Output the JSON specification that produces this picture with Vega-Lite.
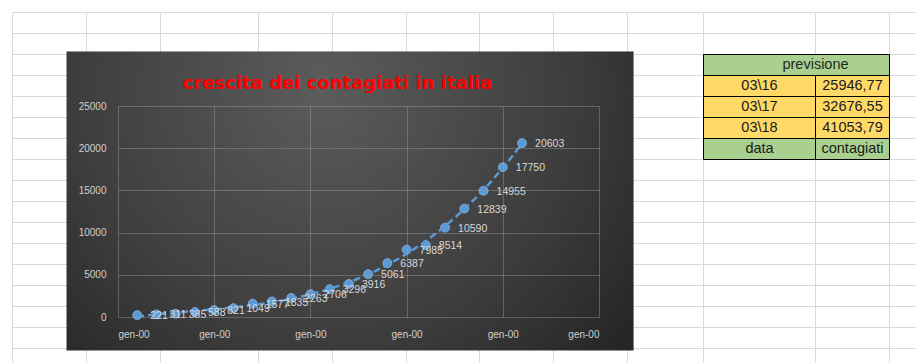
{
  "$schema": "https://vega.github.io/schema/vega-lite/v6.json",
  "width": 481,
  "height": 211,
  "autosize": {"type": "none"},
  "padding": {"left": 118, "top": 106, "right": 317, "bottom": 46},
  "background": "#ffffff",
  "config": {"view": {"stroke": null}},
  "datasets": {
    "colonne": [
      {"col": 0}, {"col": 1}, {"col": 2}, {"col": 3}, {"col": 4}, {"col": 5},
      {"col": 6}, {"col": 7}, {"col": 8}, {"col": 9}, {"col": 10}, {"col": 11}
    ],
    "righe": [
      {"riga": 0}, {"riga": 1}, {"riga": 2}, {"riga": 3}, {"riga": 4}, {"riga": 5},
      {"riga": 6}, {"riga": 7}, {"riga": 8}, {"riga": 9}, {"riga": 10}, {"riga": 11},
      {"riga": 12}, {"riga": 13}, {"riga": 14}, {"riga": 15}, {"riga": 16}
    ],
    "grafico": [{"oggetto": "grafico"}],
    "tabella": [
      {"col": 9, "col2": 11, "riga": 2, "riga2": 3, "testo": "previsione", "tipo": "intestazione"},
      {"col": 9, "col2": 10, "riga": 3, "riga2": 4, "testo": "03\\16", "tipo": "previsione"},
      {"col": 10, "col2": 11, "riga": 3, "riga2": 4, "testo": "25946,77", "tipo": "previsione"},
      {"col": 9, "col2": 10, "riga": 4, "riga2": 5, "testo": "03\\17", "tipo": "previsione"},
      {"col": 10, "col2": 11, "riga": 4, "riga2": 5, "testo": "32676,55", "tipo": "previsione"},
      {"col": 9, "col2": 10, "riga": 5, "riga2": 6, "testo": "03\\18", "tipo": "previsione"},
      {"col": 10, "col2": 11, "riga": 5, "riga2": 6, "testo": "41053,79", "tipo": "previsione"},
      {"col": 9, "col2": 10, "riga": 6, "riga2": 7, "testo": "data", "tipo": "intestazione"},
      {"col": 10, "col2": 11, "riga": 6, "riga2": 7, "testo": "contagiati", "tipo": "intestazione"}
    ],
    "contagi": [
      {"giorno": 1, "contagiati": 221},
      {"giorno": 2, "contagiati": 311},
      {"giorno": 3, "contagiati": 385},
      {"giorno": 4, "contagiati": 588},
      {"giorno": 5, "contagiati": 821},
      {"giorno": 6, "contagiati": 1049},
      {"giorno": 7, "contagiati": 1577},
      {"giorno": 8, "contagiati": 1835},
      {"giorno": 9, "contagiati": 2263},
      {"giorno": 10, "contagiati": 2706},
      {"giorno": 11, "contagiati": 3296},
      {"giorno": 12, "contagiati": 3916},
      {"giorno": 13, "contagiati": 5061},
      {"giorno": 14, "contagiati": 6387},
      {"giorno": 15, "contagiati": 7985},
      {"giorno": 16, "contagiati": 8514},
      {"giorno": 17, "contagiati": 10590},
      {"giorno": 18, "contagiati": 12839},
      {"giorno": 19, "contagiati": 14955},
      {"giorno": 20, "contagiati": 17750},
      {"giorno": 21, "contagiati": 20603}
    ]
  },
  "layer": [
    {
      "layer": [
        {
          "data": {"name": "colonne"},
          "mark": {"type": "rule", "color": "#d9d9d9", "strokeWidth": 1, "clip": false},
          "encoding": {
            "x": {"field": "col", "type": "quantitative", "axis": null,
                  "scale": {"domain": [0, 1, 2, 3, 4, 5, 6, 7, 8, 9, 10, 11, 12], "range": [-105.5, -31.5, 42.5, 140.5, 214.5, 288.5, 361.5, 435.5, 509.5, 585.5, 697.5, 771.5, 845.5], "nice": false, "zero": false}},
            "y": {"datum": 0, "type": "quantitative", "axis": null,
                  "scale": {"domain": [0, 17], "range": [-93.5, 263.5], "nice": false, "zero": false}},
            "y2": {"datum": 17}
          }
        },
        {
          "data": {"name": "righe"},
          "mark": {"type": "rule", "color": "#d9d9d9", "strokeWidth": 1, "clip": false},
          "encoding": {
            "y": {"field": "riga", "type": "quantitative", "axis": null,
                  "scale": {"domain": [0, 17], "range": [-93.5, 263.5], "nice": false, "zero": false}},
            "x": {"datum": 0, "type": "quantitative", "axis": null,
                  "scale": {"domain": [0, 1, 2, 3, 4, 5, 6, 7, 8, 9, 10, 11, 12], "range": [-105.5, -31.5, 42.5, 140.5, 214.5, 288.5, 361.5, 435.5, 509.5, 585.5, 697.5, 771.5, 845.5], "nice": false, "zero": false}},
            "x2": {"datum": 12}
          }
        },
        {
          "data": {"name": "grafico"},
          "mark": {
            "type": "rect", "clip": false,
            "fill": {
              "gradient": "radial", "x1": 0.45, "y1": 0.3, "r1": 0, "x2": 0.45, "y2": 0.3, "r2": 0.8,
              "stops": [{"offset": 0, "color": "#5c5c5c"}, {"offset": 0.55, "color": "#3d3d3d"}, {"offset": 1, "color": "#1c1c1c"}]
            }
          },
          "encoding": {
            "x": {"datum": 0.73, "type": "quantitative", "axis": null,
                  "scale": {"domain": [0, 1, 2, 3, 4, 5, 6, 7, 8, 9, 10, 11, 12], "range": [-105.5, -31.5, 42.5, 140.5, 214.5, 288.5, 361.5, 435.5, 509.5, 585.5, 697.5, 771.5, 845.5], "nice": false, "zero": false}},
            "x2": {"datum": 8.08},
            "y": {"datum": 1.86, "type": "quantitative", "axis": null,
                  "scale": {"domain": [0, 17], "range": [-93.5, 263.5], "nice": false, "zero": false}},
            "y2": {"datum": 16.1}
          }
        },
        {
          "data": {"name": "tabella"},
          "mark": {"type": "rect", "stroke": "#000000", "strokeWidth": 1, "clip": false},
          "encoding": {
            "x": {"field": "col", "type": "quantitative", "axis": null,
                  "scale": {"domain": [0, 1, 2, 3, 4, 5, 6, 7, 8, 9, 10, 11, 12], "range": [-105.5, -31.5, 42.5, 140.5, 214.5, 288.5, 361.5, 435.5, 509.5, 585.5, 697.5, 771.5, 845.5], "nice": false, "zero": false}},
            "x2": {"field": "col2"},
            "y": {"field": "riga", "type": "quantitative", "axis": null,
                  "scale": {"domain": [0, 17], "range": [-93.5, 263.5], "nice": false, "zero": false}},
            "y2": {"field": "riga2"},
            "fill": {"field": "tipo", "type": "nominal", "legend": null,
                     "scale": {"domain": ["intestazione", "previsione"], "range": ["#a9d08e", "#ffd966"]}}
          }
        },
        {
          "data": {"name": "tabella"},
          "transform": [{"filter": "datum.col2 - datum.col == 2"}],
          "mark": {"type": "text", "font": "Liberation Sans", "fontSize": 14.5, "color": "#1f2a1f", "align": "center", "baseline": "middle", "dy": 10.5, "clip": false},
          "encoding": {
            "x": {"datum": 10, "type": "quantitative", "axis": null,
                  "scale": {"domain": [0, 1, 2, 3, 4, 5, 6, 7, 8, 9, 10, 11, 12], "range": [-105.5, -31.5, 42.5, 140.5, 214.5, 288.5, 361.5, 435.5, 509.5, 585.5, 697.5, 771.5, 845.5], "nice": false, "zero": false}},
            "y": {"field": "riga", "type": "quantitative", "axis": null,
                  "scale": {"domain": [0, 17], "range": [-93.5, 263.5], "nice": false, "zero": false}},
            "text": {"field": "testo", "type": "nominal"}
          }
        },
        {
          "data": {"name": "tabella"},
          "transform": [{"filter": "datum.col == 9 && datum.col2 == 10"}],
          "mark": {"type": "text", "font": "Liberation Sans", "fontSize": 14.5, "color": "#1a1a1a", "align": "center", "baseline": "middle", "dy": 10.5, "clip": false},
          "encoding": {
            "x": {"datum": 9.5, "type": "quantitative", "axis": null,
                  "scale": {"domain": [0, 1, 2, 3, 4, 5, 6, 7, 8, 9, 10, 11, 12], "range": [-105.5, -31.5, 42.5, 140.5, 214.5, 288.5, 361.5, 435.5, 509.5, 585.5, 697.5, 771.5, 845.5], "nice": false, "zero": false}},
            "y": {"field": "riga", "type": "quantitative", "axis": null,
                  "scale": {"domain": [0, 17], "range": [-93.5, 263.5], "nice": false, "zero": false}},
            "text": {"field": "testo", "type": "nominal"}
          }
        },
        {
          "data": {"name": "tabella"},
          "transform": [{"filter": "datum.col == 10 && datum.col2 == 11"}],
          "mark": {"type": "text", "font": "Liberation Sans", "fontSize": 14.5, "color": "#1a1a1a", "align": "center", "baseline": "middle", "dy": 10.5, "clip": false},
          "encoding": {
            "x": {"datum": 10.5, "type": "quantitative", "axis": null,
                  "scale": {"domain": [0, 1, 2, 3, 4, 5, 6, 7, 8, 9, 10, 11, 12], "range": [-105.5, -31.5, 42.5, 140.5, 214.5, 288.5, 361.5, 435.5, 509.5, 585.5, 697.5, 771.5, 845.5], "nice": false, "zero": false}},
            "y": {"field": "riga", "type": "quantitative", "axis": null,
                  "scale": {"domain": [0, 17], "range": [-93.5, 263.5], "nice": false, "zero": false}},
            "text": {"field": "testo", "type": "nominal"}
          }
        }
      ]
    },
    {
      "data": {"name": "contagi"},
      "layer": [
        {
          "mark": {"type": "circle", "size": 80, "opacity": 1, "color": "#5b9bd5", "stroke": "#86b6e6", "strokeWidth": 0.8},
          "encoding": {
            "x": {
              "field": "giorno", "type": "quantitative",
              "scale": {"domain": [0, 25], "nice": false, "zero": false},
              "axis": {
                "orient": "bottom", "values": [0, 5, 10, 15, 20, 25], "labelExpr": "'gen-00'",
                "grid": true, "gridColor": "#a6a6a6", "gridOpacity": 0.4,
                "domain": false, "ticks": false, "title": null, "zindex": 1,
                "labelColor": "#d0d0d0", "labelFont": "Liberation Sans", "labelFontSize": 10, "labelPadding": 12
              }
            },
            "y": {
              "field": "contagiati", "type": "quantitative",
              "scale": {"domain": [0, 25000], "nice": false},
              "axis": {
                "values": [0, 5000, 10000, 15000, 20000, 25000], "format": "d",
                "grid": true, "gridColor": "#a6a6a6", "gridOpacity": 0.4,
                "domain": false, "ticks": false, "title": null, "zindex": 1,
                "labelColor": "#d0d0d0", "labelFont": "Liberation Sans", "labelFontSize": 10, "labelPadding": 12
              }
            }
          }
        },
        {
          "transform": [{"regression": "contagiati", "on": "giorno", "method": "poly", "order": 3}],
          "mark": {"type": "line", "color": "#5b9bd5", "strokeWidth": 2.5, "strokeDash": [7, 4]},
          "encoding": {
            "x": {"field": "giorno", "type": "quantitative", "axis": null},
            "y": {"field": "contagiati", "type": "quantitative"}
          }
        },
        {
          "mark": {"type": "text", "align": "left", "baseline": "middle", "dx": 13, "dy": 1, "font": "Liberation Sans", "fontSize": 10.5, "color": "#d9d9d9"},
          "encoding": {
            "x": {
              "field": "giorno", "type": "quantitative",
              "axis": {
                "orient": "top", "labels": false, "ticks": false, "domain": false, "grid": false, "zindex": 1,
                "title": "crescita dei contagiati in italia",
                "titleColor": "#ff0000", "titleFont": "DejaVu Sans", "titleFontSize": 18, "titleFontWeight": "bold",
                "titleX": 219, "titleY": -18, "titleAlign": "center", "titleBaseline": "alphabetic"
              }
            },
            "y": {"field": "contagiati", "type": "quantitative"},
            "text": {"field": "contagiati", "type": "quantitative", "format": "d"}
          }
        }
      ],
      "resolve": {"axis": {"x": "independent"}}
    }
  ],
  "resolve": {"scale": {"x": "independent", "y": "independent"}}
}
